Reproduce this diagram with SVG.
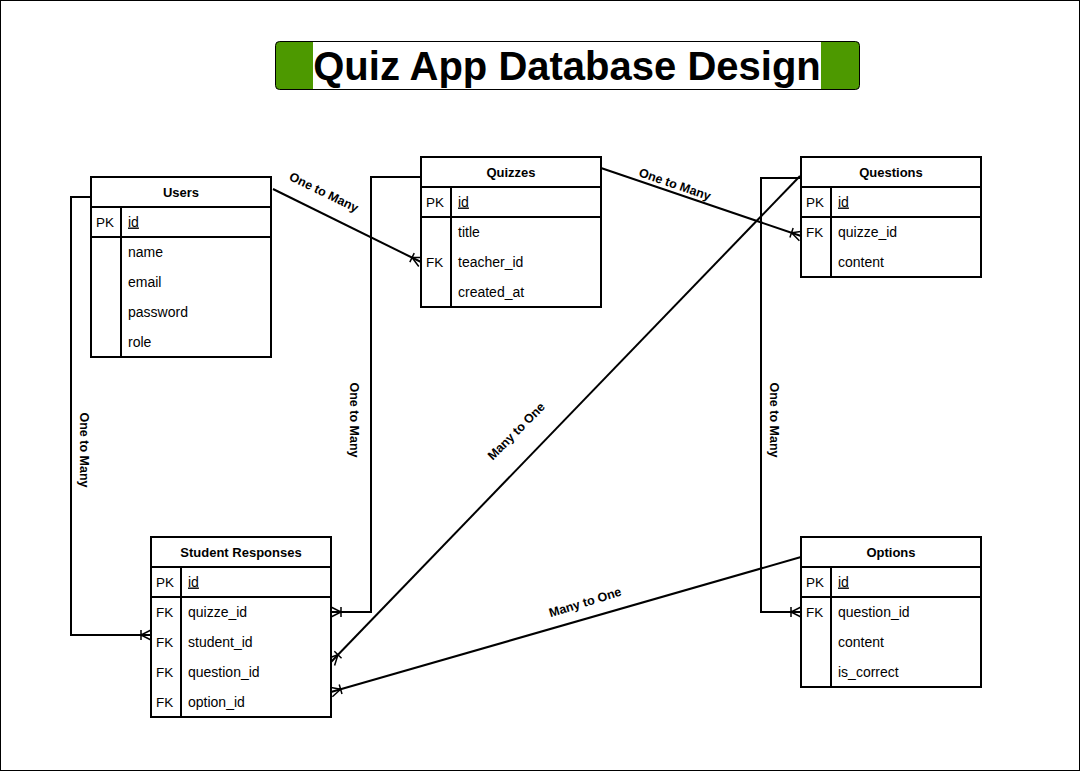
<svg xmlns="http://www.w3.org/2000/svg" width="1081" height="772" viewBox="0 0 1081 772">
<style>
.tb{fill:#fff;stroke:#000;stroke-width:2}
.ln{stroke:#000;stroke-width:2;fill:none}
.hd{font:bold 13px "Liberation Sans",Arial,sans-serif;text-anchor:middle;fill:#000}
.tx{font:14px "Liberation Sans",Arial,sans-serif;fill:#000}
.k{font:13.5px "Liberation Sans",Arial,sans-serif;fill:#000}
.lb{font:bold 12.5px "Liberation Sans",Arial,sans-serif;text-anchor:middle;fill:#000}
.cn{stroke:#000;stroke-width:2;fill:none;marker-end:url(#many)}
</style>
<defs>
<marker id="many" markerUnits="userSpaceOnUse" orient="auto" viewBox="-14 -8 16 16" refX="0" refY="0" markerWidth="16" markerHeight="16" overflow="visible">
<path d="M0,-5 L-10,0 L0,5 M-10,-5 L-10,5" fill="none" stroke="#000" stroke-width="1.5"/>
</marker>
</defs>
<rect x="0.5" y="0.5" width="1079" height="770" fill="#fff" stroke="#000" stroke-width="1"/>
<g id="title">
<rect x="275.5" y="41.5" width="584" height="48" rx="4" fill="#4D9900" stroke="#000" stroke-width="1"/>
<rect x="313" y="42" width="508" height="47" fill="#fff"/>
<text x="567" y="80" style="font:bold 40px 'Liberation Sans',Arial,sans-serif;text-anchor:middle">Quiz App Database Design</text>
</g>
<g id="connectors">
<path class="cn" d="M273,189 L421,262"/>
<path class="cn" d="M601,168 L801,236"/>
<path class="cn" d="M421,177 L371,177 L371,612 L331,612"/>
<path class="cn" d="M91,197 L71,197 L71,635 L151,635"/>
<path class="cn" d="M800,176 L331,662"/>
<path class="cn" d="M801,557 L331,692"/>
<path class="cn" d="M801,178 L761,178 L761,612 L801,612"/>
<text class="lb" transform="translate(324,192) rotate(26)" y="4.5">One to Many</text>
<text class="lb" transform="translate(675,184) rotate(19)" y="4.5">One to Many</text>
<text class="lb" transform="translate(354,420) rotate(90)" y="4.5">One to Many</text>
<text class="lb" transform="translate(84,450) rotate(90)" y="4.5">One to Many</text>
<text class="lb" transform="translate(774,420) rotate(90)" y="4.5">One to Many</text>
<text class="lb" transform="translate(516,431) rotate(-45)" y="4.5">Many to One</text>
<text class="lb" transform="translate(585,602) rotate(-17)" y="4.5">Many to One</text>
</g>
<g id="users">
<rect class="tb" x="91" y="177" width="180" height="180"/>
<path class="ln" d="M91,207 H271 M91,237 H271 M121,207 V357"/>
<text class="hd" x="181" y="196.5">Users</text>
<text class="k" x="96" y="226.5">PK</text>
<text class="tx" x="128" y="226.5" text-decoration="underline">id</text>
<text class="tx" x="128" y="256.5">name</text>
<text class="tx" x="128" y="286.5">email</text>
<text class="tx" x="128" y="316.5">password</text>
<text class="tx" x="128" y="346.5">role</text>
</g>
<g id="quizzes">
<rect class="tb" x="421" y="157" width="180" height="150"/>
<path class="ln" d="M421,187 H601 M421,217 H601 M451,187 V307"/>
<text class="hd" x="511" y="176.5">Quizzes</text>
<text class="k" x="426" y="206.5">PK</text>
<text class="tx" x="458" y="206.5" text-decoration="underline">id</text>
<text class="tx" x="458" y="236.5">title</text>
<text class="k" x="426" y="266.5">FK</text>
<text class="tx" x="458" y="266.5">teacher_id</text>
<text class="tx" x="458" y="296.5">created_at</text>
</g>
<g id="questions">
<rect class="tb" x="801" y="157" width="180" height="120"/>
<path class="ln" d="M801,187 H981 M801,217 H981 M831,187 V277"/>
<text class="hd" x="891" y="176.5">Questions</text>
<text class="k" x="806" y="206.5">PK</text>
<text class="tx" x="838" y="206.5" text-decoration="underline">id</text>
<text class="k" x="806" y="236.5">FK</text>
<text class="tx" x="838" y="236.5">quizze_id</text>
<text class="tx" x="838" y="266.5">content</text>
</g>
<g id="student-responses">
<rect class="tb" x="151" y="537" width="180" height="180"/>
<path class="ln" d="M151,567 H331 M151,597 H331 M181,567 V717"/>
<text class="hd" x="241" y="556.5">Student Responses</text>
<text class="k" x="156" y="586.5">PK</text>
<text class="tx" x="188" y="586.5" text-decoration="underline">id</text>
<text class="k" x="156" y="616.5">FK</text>
<text class="tx" x="188" y="616.5">quizze_id</text>
<text class="k" x="156" y="646.5">FK</text>
<text class="tx" x="188" y="646.5">student_id</text>
<text class="k" x="156" y="676.5">FK</text>
<text class="tx" x="188" y="676.5">question_id</text>
<text class="k" x="156" y="706.5">FK</text>
<text class="tx" x="188" y="706.5">option_id</text>
</g>
<g id="options">
<rect class="tb" x="801" y="537" width="180" height="150"/>
<path class="ln" d="M801,567 H981 M801,597 H981 M831,567 V687"/>
<text class="hd" x="891" y="556.5">Options</text>
<text class="k" x="806" y="586.5">PK</text>
<text class="tx" x="838" y="586.5" text-decoration="underline">id</text>
<text class="k" x="806" y="616.5">FK</text>
<text class="tx" x="838" y="616.5">question_id</text>
<text class="tx" x="838" y="646.5">content</text>
<text class="tx" x="838" y="676.5">is_correct</text>
</g>
</svg>
